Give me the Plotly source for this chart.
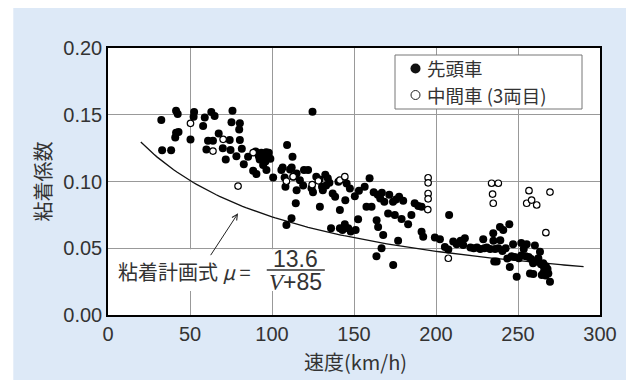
import plotly.graph_objects as go

# ---- data ----
lead_v = [32.5, 33, 38.5, 41.5, 42.5, 41.5, 41, 43, 50.3, 52.5, 52.2, 58, 59, 60, 61, 64, 63, 65,
          67.5, 70, 71.8, 74.2, 75.9, 75.3, 74.7, 80.4, 80, 80.4, 78.3, 81.6, 82.8, 85.4, 88.5, 90.5,
          90, 92, 93.5, 95, 96.5, 98, 99, 92.5, 96, 94.6, 96.6,
          100.7, 105.7, 107.7, 106.5, 109.2, 108.2, 112.5, 111, 113, 115, 112, 114.5, 115, 111.9, 108.8,
          117, 119, 119.5, 122, 124.7, 124.1, 125,
          127, 129, 129.2, 130.5, 131, 132.5, 134, 135, 133, 136, 137, 138.5, 140.5, 141.4, 143, 144.4,
          141.4, 146.5, 144.7, 145.5, 147.5, 148, 150.5, 151, 152.5, 153, 156.5, 157.6, 160.7, 159.5,
          162, 163.8, 164.7, 163.7, 164.5, 166, 167, 168.5, 167.8, 166.8, 170.8, 171.5, 173.8, 173.9,
          174.9, 175.6, 176.9, 177.5, 179, 180, 183, 185, 187, 189.2, 191.2, 191.2, 192.2,
          199.3, 202.4, 205.4, 207.5, 208, 210.5, 212.6, 215, 217.6, 216.6,
          221, 223, 225, 227, 228.8, 229.5, 231, 233, 234.9, 235, 235.5, 236, 237, 238, 239, 239.2,
          241, 240.5, 242.5, 243.5, 244.7, 245, 246, 247, 248, 249.2, 250.5, 252, 252, 253.5, 254.7,
          255.3, 256.5, 257.3, 258, 259.3, 259.2, 260.3, 261.5, 262.4, 263.4, 264, 265.4, 266, 266.4,
          267.5, 267, 268, 268.5, 265.5, 269.5, 264.5, 266.8]
lead_mu = [0.146, 0.1235, 0.1235, 0.153, 0.1505, 0.1365, 0.133, 0.137, 0.1315, 0.152, 0.1485, 0.1415,
           0.148, 0.124, 0.1305, 0.1305, 0.152, 0.149, 0.136, 0.125, 0.1165, 0.131, 0.153, 0.1443, 0.1236,
           0.1436, 0.139, 0.131, 0.119, 0.1246, 0.113, 0.1186, 0.108, 0.1056,
           0.1225, 0.119, 0.1215, 0.1185, 0.122, 0.1215, 0.117, 0.1165, 0.115, 0.1124, 0.1086,
           0.103, 0.1086, 0.103, 0.1105, 0.1273, 0.0961, 0.1186, 0.109, 0.1035, 0.106, 0.1105, 0.0837,
           0.0935, 0.0724, 0.0674, 0.101, 0.097, 0.1086, 0.1086, 0.1523, 0.0949, 0.092,
           0.1035, 0.1015, 0.0811, 0.096, 0.0935, 0.105, 0.1025, 0.099, 0.097, 0.065, 0.091, 0.0885,
           0.0998, 0.0787, 0.0636, 0.068, 0.065, 0.065, 0.086, 0.0985, 0.0948, 0.0625, 0.089, 0.0636,
           0.0717, 0.093, 0.096, 0.081, 0.081, 0.1025,
           0.092, 0.071, 0.066, 0.044, 0.090, 0.0873, 0.0915, 0.0848, 0.060, 0.050, 0.076, 0.090, 0.0848,
           0.0375, 0.075, 0.0865, 0.0557, 0.0885, 0.072, 0.0855, 0.068, 0.075, 0.0837, 0.0816, 0.081,
           0.0624, 0.0587,
           0.058, 0.0567, 0.051, 0.049, 0.075, 0.055, 0.053, 0.0556, 0.0574, 0.0524,
           0.0505, 0.050, 0.0505, 0.0495, 0.0567, 0.050, 0.0505, 0.0495, 0.0612, 0.0557, 0.040, 0.0495,
           0.040, 0.050, 0.066, 0.056, 0.0637, 0.048, 0.050, 0.0424, 0.068, 0.036, 0.044, 0.053, 0.0435,
           0.0287, 0.0425, 0.054, 0.0445, 0.0495, 0.044, 0.053, 0.0435, 0.031, 0.042, 0.0307, 0.0387,
           0.052, 0.040, 0.0425, 0.0474, 0.038, 0.0387, 0.035, 0.0335, 0.0324, 0.0365, 0.0345, 0.031,
           0.0315, 0.025, 0.030, 0.0295]

mid_v = [50.3, 64, 70.2, 79.3, 88.5, 108.8, 112.9, 124.5, 128.3, 141.4, 144.4, 195.2, 195.2, 195.2,
         195.2, 195, 207.5, 233.9, 238, 234.5, 234.9, 256.7, 269.5, 255.3, 258.3, 261.4, 267]
mid_mu = [0.1436, 0.1228, 0.1316, 0.0966, 0.1216, 0.1002, 0.1036, 0.0976, 0.1005, 0.101, 0.1036,
          0.1028, 0.099, 0.091, 0.087, 0.079, 0.0425, 0.0987, 0.0987, 0.0906, 0.0837, 0.0931, 0.0921,
          0.0837, 0.0861, 0.0824, 0.0617]

# planning formula  mu = 13.6 / (V + 85)
coef_a = 13.6
coef_b = 85
curve_v = [20 + 2 * i for i in range(136)]
curve_mu = [coef_a / (v + coef_b) for v in curve_v]

x_ticks = [0, 50, 100, 150, 200, 250, 300]
y_ticks = [0.00, 0.05, 0.10, 0.15, 0.20]
y_tick_text = ["0.00", "0.05", "0.10", "0.15", "0.20"]

FONT = "Liberation Sans, Noto Sans CJK JP, sans-serif"
JP = "Noto Sans CJK JP, sans-serif"
TXT = "#333333"

# layout geometry (page has an 8px body margin)
OFF = 8
W, H = 634 - OFF, 380 - OFF
ML, MT, MR, MB = 100, 40, 34, 65
PW, PH = W - ML - MR, H - MT - MB


def px(sx):
    return (sx - OFF - ML) / PW


def py(sy):
    return (H - MB - (sy - OFF)) / PH


fig = go.Figure()
fig.add_trace(go.Scatter(x=curve_v, y=curve_mu, mode="lines", name="粘着計画式",
                         line=dict(color="#111111", width=1.3), hoverinfo="skip"))
fig.add_trace(go.Scatter(x=lead_v, y=lead_mu, mode="markers", name="先頭車",
                         marker=dict(size=8, color="#000000", line=dict(width=0))))
fig.add_trace(go.Scatter(x=mid_v, y=mid_mu, mode="markers", name="中間車 (3両目)",
                         marker=dict(size=6.5, color="#ffffff", line=dict(width=1.2, color="#000000"))))

shapes = [
    # light blue panel
    dict(type="rect", xref="paper", yref="paper", x0=px(13.3), x1=px(700), y0=py(420), y1=py(-20),
         fillcolor="#dde9f7", line=dict(width=0), layer="below"),
    dict(type="rect", xref="paper", yref="paper", x0=0, x1=1, y0=0, y1=1,
         fillcolor="#ffffff", line=dict(width=0), layer="below"),
    # white box behind the formula label
    dict(type="rect", xref="x", yref="y", x0=3.5, x1=136, y0=0.0180, y1=0.0492,
         fillcolor="#ffffff", line=dict(width=0), layer="between"),
    # fraction bar
    dict(type="line", xref="x", yref="y", x0=96.8, x1=132.2, y0=0.0337, y1=0.0337,
         line=dict(color=TXT, width=1.3), layer="above"),
    # legend box
    dict(type="rect", xref="paper", yref="paper", x0=px(395), x1=px(582), y0=py(109), y1=py(55),
         fillcolor="#ffffff", line=dict(color="#777777", width=1), layer="above"),
    # legend symbols
    dict(type="circle", xref="paper", yref="paper", x0=px(410.5), x1=px(420.5), y0=py(73.5), y1=py(63.5),
         fillcolor="#111111", line=dict(width=0), layer="above"),
    dict(type="circle", xref="paper", yref="paper", x0=px(411), x1=px(420), y0=py(99.5), y1=py(90.5),
         fillcolor="#ffffff", line=dict(color="#222222", width=1), layer="above"),
]

annotations = [
    dict(x=5.0, y=0.0324, xref="x", yref="y", xanchor="left", yanchor="middle", showarrow=False,
         text="粘着計画式 <i>μ</i> =", font=dict(family=JP, size=20, color=TXT)),
    dict(x=114.5, y=0.0420, xref="x", yref="y", xanchor="center", yanchor="middle", showarrow=False,
         text="13.6", font=dict(family=FONT, size=23, color=TXT)),
    dict(x=114.3, y=0.0248, xref="x", yref="y", xanchor="center", yanchor="middle", showarrow=False,
         text="<span style='font-family:Liberation Serif'><i>V</i></span>+85",
         font=dict(family=FONT, size=23, color=TXT)),
    # arrow
    dict(x=79.3, y=0.0762, ax=62.0, ay=0.0437, xref="x", yref="y", axref="x", ayref="y",
         showarrow=True, arrowhead=5, arrowsize=1.1, arrowwidth=1, arrowcolor="#222222", text=""),
    # legend entries
    dict(x=px(425), y=py(68.5), xref="paper", yref="paper", xanchor="left",
         yanchor="middle", showarrow=False, text="先頭車", font=dict(family=JP, size=18.5, color=TXT)),
    dict(x=px(425), y=py(95), xref="paper", yref="paper", xanchor="left",
         yanchor="middle", showarrow=False, text="中間車 (3両目)",
         font=dict(family=JP, size=18.5, color=TXT)),
    # axis titles
    dict(x=px(355), y=py(361), xref="paper", yref="paper", xanchor="center",
         yanchor="middle", showarrow=False, text="速度(km/h)", font=dict(family=JP, size=20, color=TXT)),
    dict(x=px(42), y=0.5, xref="paper", yref="paper", xanchor="center",
         yanchor="middle", showarrow=False, text="粘着係数", textangle=-90,
         font=dict(family=JP, size=20, color=TXT)),
]

fig.update_layout(
    width=W, height=H,
    margin=dict(l=ML, r=MR, t=MT, b=MB, pad=0),
    paper_bgcolor="#ffffff", plot_bgcolor="rgba(0,0,0,0)",
    showlegend=False,
    shapes=shapes, annotations=annotations,
    xaxis=dict(range=[0, 300], tickvals=x_ticks, ticktext=[str(t) for t in x_ticks],
               showgrid=True, gridcolor="#999999", gridwidth=1, zeroline=False,
               showline=True, linecolor="#000000", linewidth=1.5, mirror=True, ticks="",
               ticklabelstandoff=0, tickfont=dict(family=FONT, size=20, color=TXT)),
    yaxis=dict(range=[0, 0.20], tickvals=y_ticks, ticktext=y_tick_text,
               showgrid=True, gridcolor="#999999", gridwidth=1, zeroline=False,
               showline=True, linecolor="#000000", linewidth=1.5, mirror=True, ticks="",
               ticklabelstandoff=0, tickfont=dict(family=FONT, size=20, color=TXT)),
)

fig.write_html("out.html")
